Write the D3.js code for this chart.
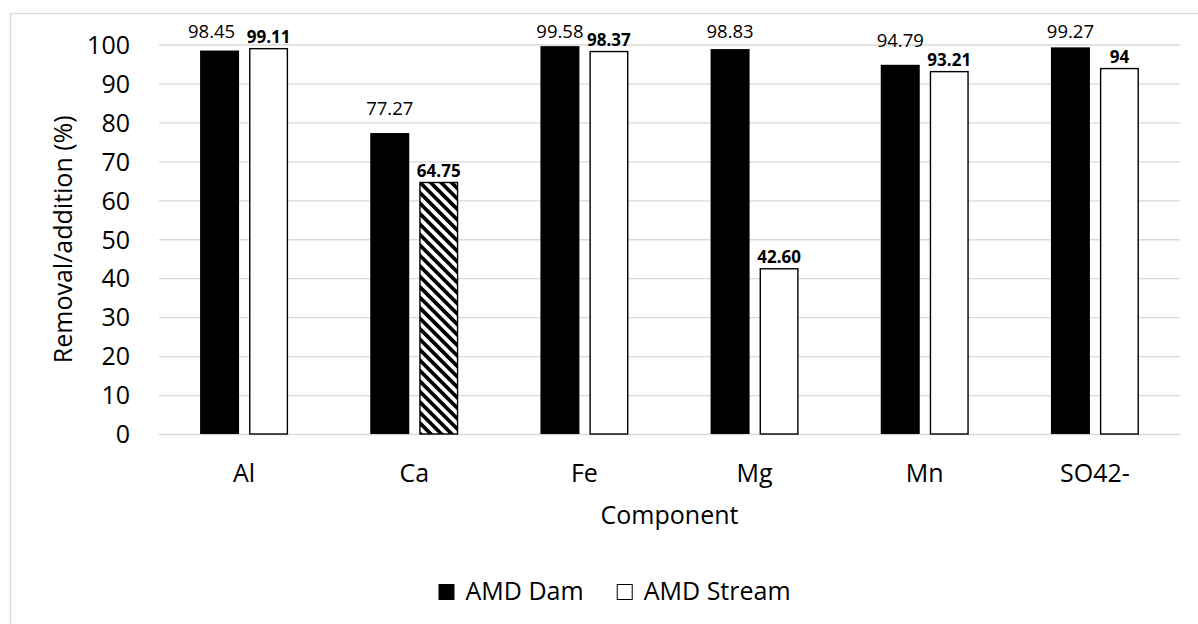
<!DOCTYPE html>
<html>
<head>
<meta charset="utf-8">
<script src="https://cdn.jsdelivr.net/npm/d3@7"></script>
<style>
  body { margin: 0; background: #fff; }
  svg { display: block; }
  text { font-family: "Open Sans", sans-serif; fill: #000; }
</style>
</head>
<body>
<svg id="chart" width="1198" height="624"></svg>
<script>
// Removal/addition per component for the two AMD sources
const components = ["Al", "Ca", "Fe", "Mg", "Mn", "SO42-"];
const seriesNames = ["AMD Dam", "AMD Stream"];
const amdDam = [98.45, 77.27, 99.58, 98.83, 94.79, 99.27];
const amdStream = [99.11, 64.75, 98.37, 42.60, 93.21, 94];
const yTicks = [0, 10, 20, 30, 40, 50, 60, 70, 80, 90, 100];
const hatchedComponent = "Ca";

const svg = d3.select("#chart");
const W = 1198, H = 624;
const plot = { left: 159, right: 1180, top: 44.5, bottom: 434 };

// outer chart frame
svg.append("rect")
  .attr("x", 10.5).attr("y", 13.5)
  .attr("width", W + 20).attr("height", H + 20)
  .attr("fill", "none").attr("stroke", "#d9d9d9").attr("stroke-width", 1.3);

// diagonal hatch used for the Ca stream bar
const defs = svg.append("defs");
const pat = defs.append("pattern")
  .attr("id", "hatch")
  .attr("patternUnits", "userSpaceOnUse")
  .attr("width", 7.4).attr("height", 7.4)
  .attr("patternTransform", "rotate(-45)");
pat.append("rect").attr("width", 7.4).attr("height", 7.4).attr("fill", "#fff");
pat.append("rect").attr("width", 3.7).attr("height", 7.4).attr("fill", "#000");

const x = d3.scaleBand().domain(components).range([plot.left, plot.right]).padding(0);
const groupW = 88;
const x1 = d3.scaleBand().domain([0, 1])
  .range([(x.bandwidth() - groupW) / 2, (x.bandwidth() + groupW) / 2])
  .paddingInner(10 / 49).paddingOuter(0);
const y = d3.scaleLinear().domain([0, 100]).range([plot.bottom, plot.top]);

// y axis with gridlines
const yAxis = svg.append("g")
  .attr("transform", `translate(${plot.left},0)`)
  .call(d3.axisLeft(y).tickValues(yTicks).tickSize(-(plot.right - plot.left)).tickPadding(29));
yAxis.select(".domain").remove();
yAxis.selectAll(".tick line").attr("stroke", "#d9d9d9").attr("stroke-width", 1.3);
yAxis.selectAll(".tick text")
  .attr("font-size", 25).attr("fill", "#000")
  .attr("font-family", "'Open Sans', sans-serif")
  .attr("dy", "0.35em");

// x axis labels
const xAxis = svg.append("g")
  .attr("transform", `translate(0,${plot.bottom})`)
  .call(d3.axisBottom(x).tickSize(0).tickPadding(30));
xAxis.select(".domain").remove();
xAxis.selectAll(".tick text")
  .attr("font-size", 25).attr("fill", "#000")
  .attr("font-family", "'Open Sans', sans-serif");

const rows = components.map((c, i) => ({ c, vals: [amdDam[i], amdStream[i]] }));
const fmt = v => Number.isInteger(v) ? String(v) : v.toFixed(2);

const groups = svg.append("g").selectAll("g")
  .data(rows).join("g")
  .attr("transform", d => `translate(${x(d.c)},0)`);

groups.selectAll("rect")
  .data(d => d.vals.map((v, s) => ({ v, s, c: d.c })))
  .join("rect")
  .attr("x", d => x1(d.s) + (d.s === 1 ? 0.7 : 0))
  .attr("y", d => y(d.v) + (d.s === 1 ? 0.7 : 0))
  .attr("width", d => x1.bandwidth() - (d.s === 1 ? 1.4 : 0))
  .attr("height", d => y(0) - y(d.v) - (d.s === 1 ? 0.7 : 0))
  .attr("fill", d => d.s === 0 ? "#000" : (d.c === hatchedComponent ? "url(#hatch)" : "#fff"))
  .attr("stroke", d => d.s === 1 ? "#000" : "none")
  .attr("stroke-width", 1.4);

// value labels above bars (kept below the chart's top edge)
const labelTop = 38.3;
const labelGap = [18, 5];
const labelShiftX = { "Al|0": -8 };   // hand-placed label offset
groups.selectAll("text.val")
  .data(d => d.vals.map((v, s) => ({ v, s, c: d.c })))
  .join("text")
  .attr("class", "val")
  .attr("x", d => x1(d.s) + x1.bandwidth() / 2 + (labelShiftX[d.c + "|" + d.s] || 0))
  .attr("y", d => Math.max(labelTop, y(d.v) - labelGap[d.s]))
  .attr("text-anchor", "middle")
  .attr("font-size", d => d.s === 0 ? 18.5 : 17)
  .attr("font-weight", d => d.s === 0 ? "normal" : "bold")
  .text(d => fmt(d.v));

// axis titles
svg.append("text")
  .attr("transform", `translate(72,${(plot.top + plot.bottom) / 2}) rotate(-90)`)
  .attr("text-anchor", "middle")
  .attr("font-size", 25)
  .text("Removal/addition (%)");

svg.append("text")
  .attr("x", (plot.left + plot.right) / 2).attr("y", 524)
  .attr("text-anchor", "middle")
  .attr("font-size", 25)
  .text("Component");

// legend
const legend = svg.append("g").attr("transform", "translate(438.5,584)");
const items = legend.selectAll("g").data(seriesNames).join("g")
  .attr("transform", (d, i) => `translate(${i * 178.2},0)`);
items.append("rect")
  .attr("x", (d, i) => i ? 0.5 : 0).attr("y", (d, i) => i ? 0.5 : 0)
  .attr("width", (d, i) => i ? 15 : 16).attr("height", (d, i) => i ? 15 : 16)
  .attr("fill", (d, i) => i ? "#fff" : "#000")
  .attr("stroke", (d, i) => i ? "#000" : "none")
  .attr("stroke-width", 1);
items.append("text")
  .attr("x", 27).attr("y", 15.5)
  .attr("font-size", 25)
  .text(d => d);
</script>
</body>
</html>
